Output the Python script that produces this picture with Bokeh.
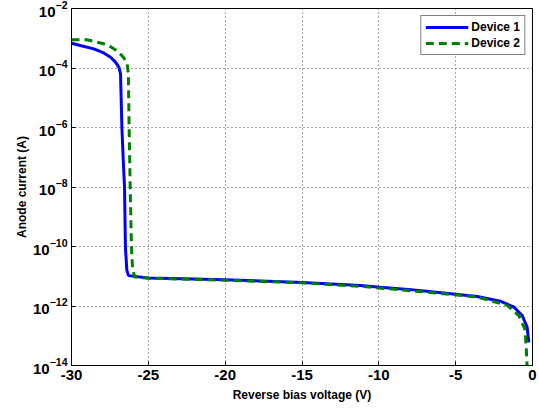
from bokeh.plotting import figure
from bokeh.models import FixedTicker, Legend, LegendItem
from bokeh.embed import file_html
from bokeh.resources import INLINE

# ---- data ----
dev1_v = [-30, -29.3, -28.55, -27.9, -27.46, -27.15, -26.92, -26.81, -26.77, -26.72, -26.64,
          -26.55, -26.49, -26.4, -26.29, -25, -20, -15, -11.2, -9.9, -7.9, -5.8, -3.6, -2.1,
          -1.2, -0.67, -0.35, -0.24]
dev1_i = [6.8e-4, 5.5e-4, 4.4e-4, 3.2e-4, 2.3e-4, 1.6e-4, 1.07e-4, 6.3e-5, 1.0e-5, 1.0e-6, 1.0e-7,
          9.8e-9, 9.5e-11, 1.6e-11, 1.05e-11, 8.7e-12, 7.6e-12, 6.2e-12, 4.9e-12, 4.27e-12, 3.55e-12, 2.75e-12, 2.09e-12, 1.45e-12,
          9.1e-13, 4.8e-13, 1.95e-13, 6.0e-14]

dev2_v = [-30, -29, -27.9, -27.4, -26.92, -26.6, -26.38, -26.3, -26.25, -26.18, -26.1,
          -26.03, -25.9, -25, -20, -15, -11.2, -6.85, -3.6, -1.65, -0.9, -0.5, -0.41, -0.35]
dev2_i = [8.9e-4, 8.9e-4, 6.5e-4, 5.0e-4, 3.4e-4, 2.2e-4, 1.4e-4, 6.3e-5, 1.0e-6, 1.0e-8, 1.0e-10,
          2.0e-11, 9.5e-12, 8.6e-12, 7.4e-12, 6.0e-12, 4.6e-12, 2.9e-12, 2.0e-12, 1.05e-12, 4.8e-13, 1.7e-13, 4.2e-14, 8.9e-15]

x_ticks = [-30, -25, -20, -15, -10, -5, 0]
x_tick_labels = ["-30", "-25", "-20", "-15", "-10", "-5", "0"]
y_ticks = [1e-14, 1e-12, 1e-10, 1e-8, 1e-6, 1e-4, 1e-2]

FONT = "Liberation Sans"

p = figure(frame_width=461, frame_height=357, x_range=(-30, 0), y_range=(1e-14, 1e-2),
           y_axis_type="log", output_backend="svg", toolbar_location=None,
           min_border_left=71, min_border_right=7, min_border_top=8, min_border_bottom=45)
p.outline_line_color = "black"
p.outline_line_width = 1

r1 = p.line(dev1_v, dev1_i, line_color="#0000ff", line_width=3)
r2 = p.line(dev2_v, dev2_i, line_color="#008000", line_width=3, line_dash="8 5")

# axes
xa = p.xaxis[0]
ya = p.yaxis[0]
xa.ticker = FixedTicker(ticks=x_ticks)
xa.major_label_overrides = {t: l for t, l in zip(x_ticks, x_tick_labels)}
ya.ticker = FixedTicker(ticks=y_ticks)
for ax in (xa, ya):
    ax.major_tick_in = 4
    ax.major_tick_out = 0
    ax.minor_tick_in = 0
    ax.minor_tick_out = 0
    ax.major_label_text_font = FONT
    ax.major_label_text_font_style = "bold"
    ax.major_label_text_font_size = "15px"
    ax.major_label_text_color = "black"
    ax.axis_label_text_font = FONT
    ax.axis_label_text_font_style = "bold"
    ax.axis_label_text_font_size = "12px"
    ax.axis_label_text_color = "black"
    ax.axis_line_color = "black"
    ax.major_tick_line_color = "black"
xa.axis_label = "Reverse bias voltage (V)"
ya.axis_label = "Anode current (A)"
xa.major_label_standoff = 4
ya.major_label_standoff = 4
xa.axis_label_standoff = 5
ya.axis_label_standoff = 1

# grid
for g in (p.xgrid[0], p.ygrid[0]):
    g.grid_line_color = "black"
    g.grid_line_alpha = 0.7
    g.grid_line_dash = "1 3"
    g.grid_line_width = 1
p.xgrid[0].ticker = FixedTicker(ticks=x_ticks)
p.ygrid[0].ticker = FixedTicker(ticks=y_ticks)

legend = Legend(items=[LegendItem(label="Device 1", renderers=[r1]),
                       LegendItem(label="Device 2", renderers=[r2])],
                location="top_right")
legend.label_text_font = FONT
legend.label_text_font_style = "bold"
legend.label_text_font_size = "12px"
legend.label_text_color = "black"
legend.border_line_color = "black"
legend.border_line_width = 1.5
legend.background_fill_alpha = 1
legend.glyph_width = 43
legend.glyph_height = 14
legend.label_height = 14
legend.label_standoff = 3
legend.spacing = 2
legend.padding = 4
legend.margin = 7
p.add_layout(legend)

open("out.html", "w").write(file_html(p, INLINE))
